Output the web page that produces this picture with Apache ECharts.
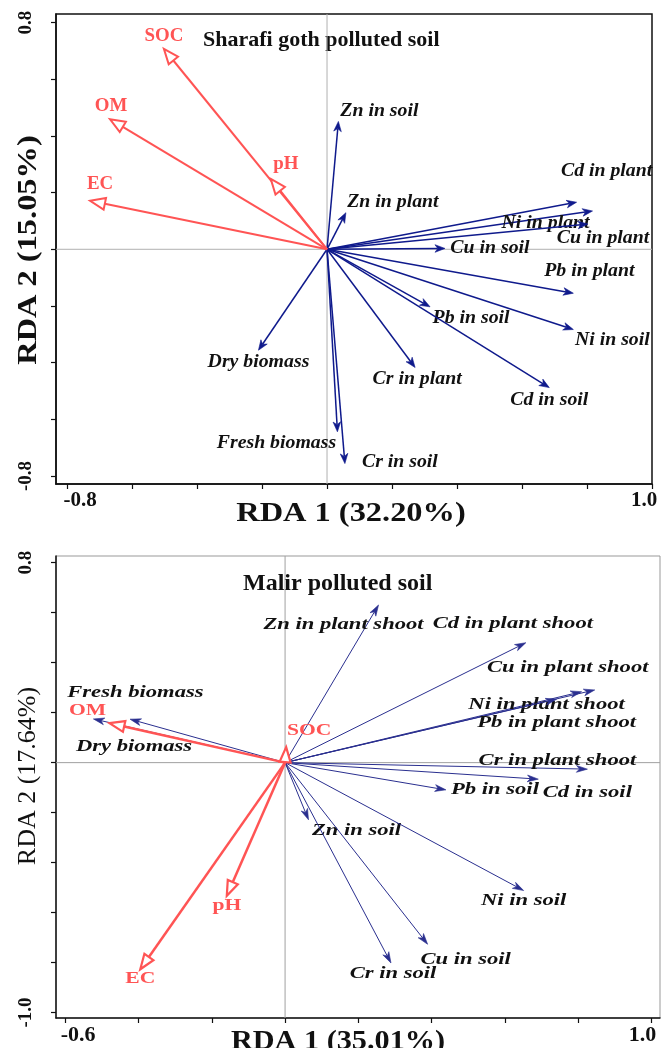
<!DOCTYPE html>
<html><head><meta charset="utf-8">
<script src="https://cdn.jsdelivr.net/npm/echarts@6/dist/echarts.min.js"></script>
<style>html,body{margin:0;padding:0;background:#fff}#c{width:662px;height:1048px}</style>
</head><body><div id="c"></div>
<script>
// ===== Data: Sharafi goth polluted soil (top panel) =====
const sgEnvNames = ['SOC', 'OM', 'EC', 'pH'];
const sgEnvX = [-0.502, -0.668, -0.729, -0.173];
const sgEnvY = [0.707, 0.459, 0.171, 0.248];
const sgRespNames = ['Zn in soil', 'Zn in plant', 'Cd in plant', 'Ni in plant', 'Cu in plant', 'Cu in soil',
  'Pb in plant', 'Pb in soil', 'Ni in soil', 'Cd in soil', 'Cr in plant', 'Dry biomass', 'Fresh biomass', 'Cr in soil'];
const sgRespX = [0.035, 0.058, 0.768, 0.817, 0.803, 0.363, 0.758, 0.317, 0.758, 0.684, 0.271, -0.211, 0.032, 0.055];
const sgRespY = [0.451, 0.129, 0.166, 0.135, 0.089, 0.003, -0.155, -0.203, -0.283, -0.488, -0.417, -0.356, -0.644, -0.756];

// ===== Data: Malir polluted soil (bottom panel) =====
const mlEnvNames = ['OM', 'SOC', 'pH', 'EC'];
const mlEnvX = [-0.479, 0.003, -0.159, -0.395];
const mlEnvY = [0.158, 0.062, -0.533, -0.827];
const mlRespNames = ['Fresh biomass', 'Dry biomass', 'Zn in plant shoot', 'Cd in plant shoot', 'Cu in plant shoot',
  'Ni in plant shoot', 'Pb in plant shoot', 'Cr in plant shoot', 'Cd in soil', 'Pb in soil', 'Zn in soil',
  'Ni in soil', 'Cu in soil', 'Cr in soil'];
const mlRespX = [-0.523, -0.423, 0.255, 0.657, 0.845, 0.809, 0.741, 0.825, 0.691, 0.439, 0.064, 0.651, 0.389, 0.289];
const mlRespY = [0.175, 0.174, 0.631, 0.480, 0.291, 0.284, 0.254, -0.026, -0.066, -0.109, -0.229, -0.512, -0.727, -0.802];

// ===== Axis ticks / labels =====
const topXTicks = [-0.8, -0.6, -0.4, -0.2, 0, 0.2, 0.4, 0.6, 0.8, 1.0];
const topYTicks = [-0.8, -0.6, -0.4, -0.2, 0, 0.2, 0.4, 0.6, 0.8];
const topXLabels = [-0.8, 1.0];
const topYLabels = [-0.8, 0.8];
const botXTicks = [-0.6, -0.4, -0.2, 0, 0.2, 0.4, 0.6, 0.8, 1.0];
const botYTicks = [-1.0, -0.8, -0.6, -0.4, -0.2, 0, 0.2, 0.4, 0.6, 0.8];
const botXLabels = [-0.6, 1.0];
const botYLabels = [-1.0, 0.8];

// ===== Layout (label offsets from arrow tip, px) =====
const sgEnvLabelOff = { 'SOC': [0, -13], 'OM': [1, -13], 'EC': [10, -16], 'pH': [15, -15] };
const sgRespLabelOff = {
  'Zn in soil': [41, -10], 'Zn in plant': [47, -10], 'Cd in plant': [30, -31], 'Ni in plant': [-47, 12],
  'Cu in plant': [15, 14], 'Cu in soil': [45, 0], 'Pb in plant': [16, -22], 'Pb in soil': [41, 12],
  'Ni in soil': [39, 11], 'Cd in soil': [0, 13], 'Cr in plant': [2, 12], 'Dry biomass': [0, 12],
  'Fresh biomass': [-61, 12], 'Cr in soil': [55, -1]
};
const mlEnvLabelOff = { 'OM': [-22, -12], 'SOC': [23, -16], 'pH': [0, 10], 'EC': [0, 10] };
const mlRespLabelOff = {
  'Fresh biomass': [42, -26], 'Dry biomass': [4, 27], 'Zn in plant shoot': [-35, 20],
  'Cd in plant shoot': [-13, -19], 'Cu in plant shoot': [-27, -22], 'Ni in plant shoot': [-35, 13],
  'Pb in plant shoot': [0, 23], 'Cr in plant shoot': [-30, -9], 'Cd in soil': [49, 13],
  'Pb in soil': [49, 0], 'Zn in soil': [48, 11], 'Ni in soil': [0, 10], 'Cu in soil': [38, 15],
  'Cr in soil': [2, 11]
};

const SERIF = '"Liberation Serif","Times New Roman",serif';
const RED = '#ff5454';
const NAVY = '#0f1a8c';

function arrowSeries(gi, names, xs, ys, offs, st) {
  return {
    type: 'custom', xAxisIndex: gi, yAxisIndex: gi, z: st.z, silent: true, clip: false,
    data: names.map((n, i) => [xs[i], ys[i], i]),
    renderItem: function (params, api) {
      const i = api.value(2);
      const o = api.coord([0, 0]);
      const t = api.coord([api.value(0), api.value(1)]);
      const dx = t[0] - o[0], dy = t[1] - o[1];
      const len = Math.hypot(dx, dy) || 1;
      const ux = dx / len, uy = dy / len, nx = -uy, ny = ux;
      const L = Math.min(st.headLen, len), W = st.headW;
      const bx = t[0] - ux * L, by = t[1] - uy * L;
      let endX, endY, pts;
      if (st.open) {
        endX = bx; endY = by;
        pts = [[t[0], t[1]], [bx + nx * W, by + ny * W], [bx - nx * W, by - ny * W]];
      } else {
        const mx = t[0] - ux * L * 0.72, my = t[1] - uy * L * 0.72;
        endX = mx; endY = my;
        pts = [[t[0], t[1]], [bx + nx * W, by + ny * W], [mx, my], [bx - nx * W, by - ny * W]];
      }
      const off = offs[names[i]] || [0, 0];
      return {
        type: 'group', children: [
          { type: 'line', shape: { x1: o[0], y1: o[1], x2: endX, y2: endY }, style: { stroke: st.color, lineWidth: st.lw } },
          { type: 'polygon', shape: { points: pts },
            style: st.open ? { fill: '#fff', stroke: st.color, lineWidth: st.headLw, lineJoin: 'miter' }
                           : { fill: st.color, stroke: st.color, lineWidth: 0.6 } },
          { type: 'text', x: t[0] + off[0], y: t[1] + off[1], scaleX: st.sx,
            style: { text: names[i], x: 0, y: 0, align: 'center', verticalAlign: 'middle', fill: st.textColor, font: st.font } }
        ]
      };
    }
  };
}

function zeroLines(gi, color) {
  return {
    type: 'custom', xAxisIndex: gi, yAxisIndex: gi, z: 1, silent: true,
    data: [[0, 0]],
    renderItem: function (params, api) {
      const cs = params.coordSys;
      const o = api.coord([0, 0]);
      return { type: 'group', children: [
        { type: 'line', shape: { x1: cs.x, y1: o[1], x2: cs.x + cs.width, y2: o[1] }, style: { stroke: color, lineWidth: 1 } },
        { type: 'line', shape: { x1: o[0], y1: cs.y, x2: o[0], y2: cs.y + cs.height }, style: { stroke: color, lineWidth: 1 } }
      ] };
    }
  };
}

function fmt(v) { return (Math.round(v * 10) / 10).toFixed(1); }

function xAxisCfg(gi, min, max, ticks, labels, fs, shiftL, shiftR) {
  return {
    type: 'value', gridIndex: gi, min: min, max: max,
    splitLine: { show: false },
    axisLine: { show: true, onZero: false, lineStyle: { color: '#111', width: 1.5 } },
    axisTick: { show: true, customValues: ticks, length: 5, lineStyle: { color: '#111', width: 1.2 } },
    axisLabel: {
      show: true, customValues: labels, margin: 6,
      formatter: function (v) { return v < 0 ? '{l|' + fmt(v) + '}' : '{r|' + fmt(v) + '}'; },
      rich: {
        l: { fontFamily: SERIF, fontWeight: 'bold', fontSize: fs, color: '#111', padding: [0, 0, 0, shiftL] },
        r: { fontFamily: SERIF, fontWeight: 'bold', fontSize: fs, color: '#111', padding: [0, shiftR, 0, 0] }
      }
    }
  };
}
function yAxisCfg(gi, min, max, ticks, labels, fs) {
  return {
    type: 'value', gridIndex: gi, min: min, max: max,
    splitLine: { show: false },
    axisLine: { show: true, onZero: false, lineStyle: { color: '#111', width: 1.5 } },
    axisTick: { show: true, customValues: ticks, length: 5, lineStyle: { color: '#111', width: 1.2 } },
    axisLabel: {
      show: true, customValues: labels, rotate: 90, margin: 20,
      formatter: fmt, fontFamily: SERIF, fontWeight: 'bold', fontSize: fs, color: '#111'
    }
  };
}

const chart = echarts.init(document.getElementById('c'), null, { renderer: 'canvas' });
chart.setOption({
  animation: false,
  backgroundColor: '#fff',
  grid: [
    { left: 56, top: 14, width: 596, height: 470, show: true, borderColor: '#111', borderWidth: 1.5, backgroundColor: 'transparent' },
    { left: 56, top: 556, width: 604, height: 462, show: true, borderColor: '#999', borderWidth: 1, backgroundColor: 'transparent' }
  ],
  xAxis: [
    xAxisCfg(0, -0.834, 1.0, topXTicks, topXLabels, 21, 26, 16),
    xAxisCfg(1, -0.625, 1.023, botXTicks, botXLabels, 22, 26, 18)
  ],
  yAxis: [
    yAxisCfg(0, -0.828, 0.830, topYTicks, topYLabels, 19),
    yAxisCfg(1, -1.022, 0.827, botYTicks, botYLabels, 19)
  ],
  graphic: [
    { type: 'text', x: 203, y: 40, style: { text: 'Sharafi goth polluted soil', font: 'bold 22px ' + SERIF, fill: '#111', align: 'left', verticalAlign: 'middle' } },
    { type: 'text', x: 243, y: 584, style: { text: 'Malir polluted soil', font: 'bold 24px ' + SERIF, fill: '#111', align: 'left', verticalAlign: 'middle' } },
    { type: 'text', x: 351, y: 514, scaleX: 1.2, style: { text: 'RDA 1 (32.20%)', font: 'bold 27px ' + SERIF, fill: '#111', align: 'center', verticalAlign: 'middle' } },
    { type: 'text', x: 29, y: 250, rotation: Math.PI / 2, scaleX: 1.2, style: { text: 'RDA 2 (15.05%)', font: 'bold 27px ' + SERIF, fill: '#111', align: 'center', verticalAlign: 'middle' } },
    { type: 'text', x: 338, y: 1042, scaleX: 1.12, style: { text: 'RDA 1 (35.01%)', font: 'bold 27px ' + SERIF, fill: '#111', align: 'center', verticalAlign: 'middle' } },
    { type: 'text', x: 28, y: 776, rotation: Math.PI / 2, style: { text: 'RDA 2 (17.64%)', font: '26px ' + SERIF, fill: '#111', align: 'center', verticalAlign: 'middle' } }
  ],
  series: [
    zeroLines(0, '#b0b0b0'),
    zeroLines(1, '#a0a0a0'),
    arrowSeries(0, sgRespNames, sgRespX, sgRespY, sgRespLabelOff,
      { z: 3, color: NAVY, lw: 1.5, open: false, headLen: 10, headW: 3.8, sx: 1.1, textColor: '#111', font: 'italic bold 18px ' + SERIF }),
    arrowSeries(0, sgEnvNames, sgEnvX, sgEnvY, sgEnvLabelOff,
      { z: 4, color: RED, lw: 2, open: true, headLen: 15, headW: 6, headLw: 2, sx: 1.05, textColor: RED, font: 'bold 18px ' + SERIF }),
    arrowSeries(1, mlRespNames, mlRespX, mlRespY, mlRespLabelOff,
      { z: 3, color: '#2a2f8f', lw: 1, open: false, headLen: 11, headW: 3.4, sx: 1.33, textColor: '#111', font: 'italic bold 17px ' + SERIF }),
    arrowSeries(1, mlEnvNames, mlEnvX, mlEnvY, mlEnvLabelOff,
      { z: 4, color: RED, lw: 2.5, open: true, headLen: 15, headW: 5.5, headLw: 2.2, sx: 1.35, textColor: RED, font: 'bold 16px ' + SERIF })
  ]
});
</script>
</body></html>
